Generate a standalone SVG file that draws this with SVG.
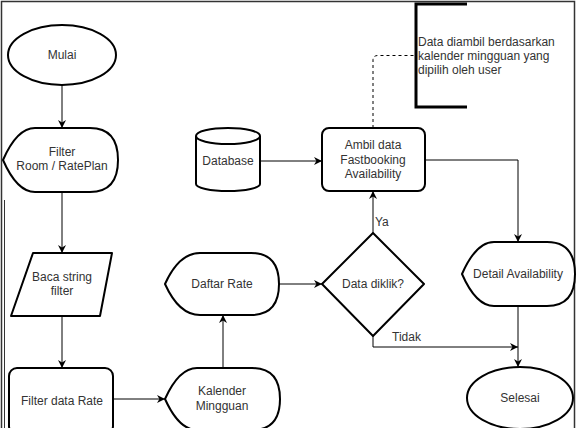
<svg xmlns="http://www.w3.org/2000/svg" width="579" height="428" viewBox="0 0 579 428">
<defs>
<style>
.s{fill:#fff;stroke:#000;stroke-width:2;stroke-linejoin:round}
.t{font-family:"Liberation Sans",Arial,sans-serif;font-size:12px;fill:#333;text-anchor:middle}
.ta{font-family:"Liberation Sans",Arial,sans-serif;font-size:12px;fill:#333}
.c{fill:none;stroke:#000;stroke-width:1}
.d{fill:none;stroke:#000;stroke-width:1;stroke-dasharray:3 3}
</style>
<marker id="ah" viewBox="0 0 10 10" refX="10" refY="5" markerWidth="8" markerHeight="8" markerUnits="userSpaceOnUse" orient="auto">
<path d="M0,0 L10,5 L0,10 L3,5 Z" fill="#000"/>
</marker>
</defs>
<rect width="579" height="428" fill="#fff"/>
<g id="frame">
<rect x="1.5" y="1.5" width="573" height="440" fill="none" stroke="#333" stroke-width="1.5"/>
<line x1="4.5" y1="200" x2="4.5" y2="428" stroke="#333" stroke-width="1"/>
</g>
<g id="connectors">
<path class="c" d="M62,85 V128" marker-end="url(#ah)"/>
<path class="c" d="M62,192 V253" marker-end="url(#ah)"/>
<path class="c" d="M62,316 V368" marker-end="url(#ah)"/>
<path class="c" d="M113,399 H165" marker-end="url(#ah)"/>
<path class="c" d="M223,368 V315" marker-end="url(#ah)"/>
<path class="c" d="M279,284 H322" marker-end="url(#ah)"/>
<path class="c" d="M260,161 H322" marker-end="url(#ah)"/>
<path class="c" d="M373,233 V191" marker-end="url(#ah)"/>
<path class="c" d="M425,160 H518 V242" marker-end="url(#ah)"/>
<path class="c" d="M518,306 V367" marker-end="url(#ah)"/>
<path class="c" d="M373,336 V347 H518" marker-end="url(#ah)"/>
<path class="d" d="M373,128 V60 Q373,55.5 378,55.5 H415"/>
<text class="ta" x="375" y="226">Ya</text>
<text class="ta" x="392" y="341">Tidak</text>
</g>
<g id="mulai">
<ellipse class="s" cx="62" cy="55" rx="54" ry="30"/>
<text class="t" x="62" y="59">Mulai</text>
</g>
<g id="filter-room">
<path class="s" d="M3,160 Q17,128 35,128 H90 Q118,128 118,160 Q118,192 90,192 H35 Q17,192 3,160 Z"/>
<text class="t" x="62" y="156">Filter</text>
<text class="t" x="62" y="170">Room / RatePlan</text>
</g>
<g id="baca-string">
<path class="s" d="M33,253 H112 L100,316 H11 Z"/>
<text class="t" x="62" y="281">Baca string</text>
<text class="t" x="62" y="295">filter</text>
</g>
<g id="filter-data-rate">
<rect class="s" x="9" y="368" width="104" height="66" rx="8"/>
<text class="t" x="62" y="405">Filter data Rate</text>
</g>
<g id="kalender">
<path class="s" d="M165,399 Q179,368 197,368 H252 Q280,368 280,399 Q280,430 252,430 H197 Q179,430 165,399 Z"/>
<text class="t" x="222" y="395">Kalender</text>
<text class="t" x="222" y="410">Mingguan</text>
</g>
<g id="daftar-rate">
<path class="s" d="M165,284 Q179,253 200,253 H251 Q279,253 279,284 Q279,315 251,315 H200 Q179,315 165,284 Z"/>
<text class="t" x="222" y="288">Daftar Rate</text>
</g>
<g id="database">
<path class="s" d="M196,136 V184 A32,7 0 0 0 260,184 V136"/>
<ellipse class="s" cx="228" cy="136" rx="32" ry="8"/>
<text class="t" x="228" y="165">Database</text>
</g>
<g id="ambil-data">
<rect class="s" x="322" y="128" width="103" height="63" rx="7"/>
<text class="t" x="373" y="149">Ambil data</text>
<text class="t" x="373" y="164">Fastbooking</text>
<text class="t" x="373" y="178">Availability</text>
</g>
<g id="data-diklik">
<path class="s" d="M373,233 L424,284 L373,336 L322,284 Z"/>
<text class="t" x="373" y="288">Data diklik?</text>
</g>
<g id="detail-availability">
<path class="s" d="M462,274 Q476,242 494,242 H547 Q575,242 575,274 Q575,306 547,306 H494 Q476,306 462,274 Z"/>
<text class="t" x="518" y="278">Detail Availability</text>
</g>
<g id="selesai">
<ellipse class="s" cx="520" cy="398" rx="53" ry="31"/>
<text class="t" x="520" y="402">Selesai</text>
</g>
<g id="annotation">
<path fill="none" stroke="#000" stroke-width="3" d="M467,4 H416 V107 H467"/>
<text class="ta" x="418" y="46">Data diambil berdasarkan</text>
<text class="ta" x="418" y="60">kalender mingguan yang</text>
<text class="ta" x="418" y="74">dipilih oleh user</text>
</g>
</svg>
